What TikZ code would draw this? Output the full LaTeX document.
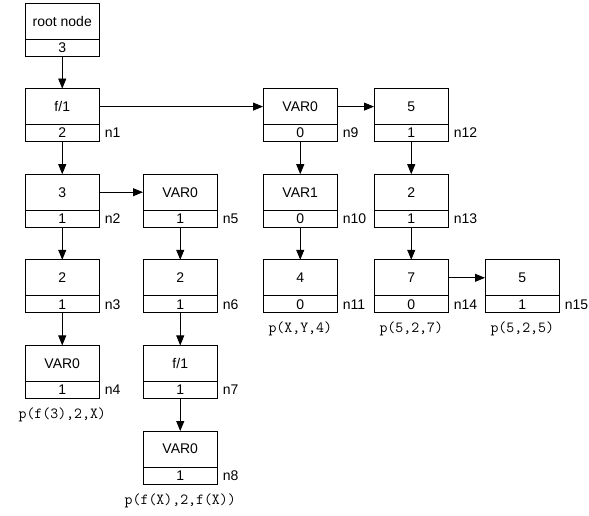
\documentclass[tikz,border=0pt]{standalone}
\usepackage{fontspec}
\setmainfont{Liberation Sans}
\usetikzlibrary{positioning,arrows.meta}

% one cell of the term tree: symbol on top, counter below, tag at the right
\newcommand{\regcell}[6]{%
  \node[cell, anchor=north west] (#1) at (#2,#3) {#4};
  \node[cnt, below=0pt of #1] (#1c) {#5};
  \node[tag, right=5pt of #1c] (#1t) {#6};
}

\begin{document}
\begin{tikzpicture}[
    x=1pt, y=-1pt,
    line width=0.8pt,
    cell/.style={draw, minimum width=74.5pt, minimum height=36pt,
        inner sep=0pt, outer sep=0pt, font=\fontsize{14}{16}\selectfont},
    cnt/.style={draw, minimum width=74.5pt, minimum height=17pt,
        inner sep=0pt, outer sep=0pt, font=\fontsize{14}{16}\selectfont},
    tag/.style={inner sep=0pt, font=\fontsize{14}{16}\selectfont},
    term/.style={inner sep=0pt, font=\ttfamily\fontsize{15.4}{17}\selectfont},
    link/.style={-{Triangle[length=10pt,width=8pt]}},
]
\useasboundingbox (0,0) rectangle (589,516);

% column 1
\regcell{r}{25}{3}{root node}{3}{}
\regcell{n1}{25}{88.6}{f/1}{2}{n1}
\regcell{n2}{25}{174.2}{3}{1}{n2}
\regcell{n3}{25}{259.8}{2}{1}{n3}
\regcell{n4}{25}{345.4}{VAR0}{1}{n4}

% column 2
\regcell{n5}{143}{174.2}{VAR0}{1}{n5}
\regcell{n6}{143}{259.8}{2}{1}{n6}
\regcell{n7}{143}{345.4}{f/1}{1}{n7}
\regcell{n8}{143}{431}{VAR0}{1}{n8}

% columns 3 to 5
\regcell{n9}{263}{88.6}{VAR0}{0}{n9}
\regcell{n10}{263}{174.2}{VAR1}{0}{n10}
\regcell{n11}{263}{259.8}{4}{0}{n11}
\regcell{n12}{374}{88.6}{5}{1}{n12}
\regcell{n13}{374}{174.2}{2}{1}{n13}
\regcell{n14}{374}{259.8}{7}{0}{n14}
\regcell{n15}{485}{259.8}{5}{1}{n15}

% terms read off the leaves
\node[term, below=9pt of n4c] (p4) {p(f(3),2,X)};
\node[term, below=9pt of n8c] (p8) {p(f(X),2,f(X))};
\node[term, below=9pt of n11c] (p11) {p(X,Y,4)};
\node[term, below=9pt of n14c] (p14) {p(5,2,7)};
\node[term, below=9pt of n15c] (p15) {p(5,2,5)};

% downward links
\draw[link] (rc) -- (n1);
\draw[link] (n1c) -- (n2);
\draw[link] (n2c) -- (n3);
\draw[link] (n3c) -- (n4);
\draw[link] (n5c) -- (n6);
\draw[link] (n6c) -- (n7);
\draw[link] (n7c) -- (n8);
\draw[link] (n9c) -- (n10);
\draw[link] (n10c) -- (n11);
\draw[link] (n12c) -- (n13);
\draw[link] (n13c) -- (n14);

% sideways links
\draw[link] (n1) -- (n9);
\draw[link] (n2) -- (n5);
\draw[link] (n9) -- (n12);
\draw[link] (n14) -- (n15);

\end{tikzpicture}
\end{document}
